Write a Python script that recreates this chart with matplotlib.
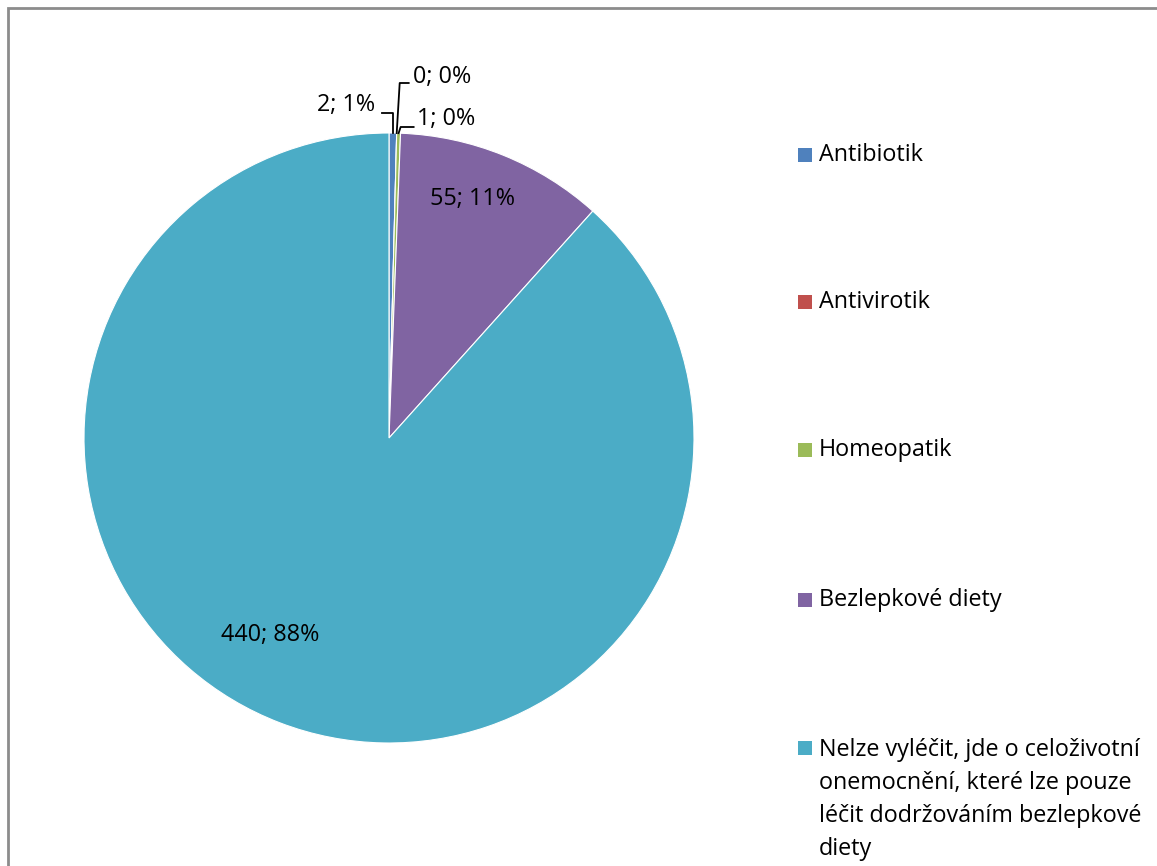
import numpy as np
import matplotlib.pyplot as plt
from matplotlib.patches import Rectangle

plt.rcParams['font.family'] = ['Open Sans', 'DejaVu Sans']

categories = ["Antibiotik", "Antivirotik", "Homeopatik", "Bezlepkové diety",
              "Nelze vyléčit, jde o celoživotní\nonemocnění, které lze pouze\nléčit dodržováním bezlepkové\ndiety"]
values = [2, 0, 1, 55, 440]
pct_labels = ["1%", "0%", "0%", "11%", "88%"]
colors = ["#4F81BD", "#C0504D", "#9BBB59", "#8064A2", "#4BACC6"]

W, H = 1157, 866
fig = plt.figure(figsize=(W / 100, H / 100), dpi=100)
ax = fig.add_axes([0, 0, 1, 1])

# chart area border (only top and left edges fall inside the image)
ax.add_patch(Rectangle((7.5, -20), W + 50, H - 7.5 + 20, fill=False,
                       edgecolor="#8c8c8c", linewidth=2.0))

cx, cy, r = 389, H - 438, 305
wedges, _ = ax.pie(values, colors=colors, startangle=90, counterclock=False,
                   center=(cx, cy), radius=r, frame=True,
                   wedgeprops=dict(edgecolor="white", linewidth=0.8))
ax.set_xlim(0, W)
ax.set_ylim(0, H)
ax.set_aspect("equal")
ax.axis("off")

fs = 16.8
labels = [f"{v}; {p}" for v, p in zip(values, pct_labels)]

def edge_point(w, frac=0.5):
    ang = np.deg2rad(w.theta1 + (w.theta2 - w.theta1) * frac)
    return cx + r * np.cos(ang), cy + r * np.sin(ang)

# small slices: labels outside with leader lines
x0, y0 = edge_point(wedges[0])
ax.plot([x0, x0, x0 - 11], [y0, H - 113, H - 113], color="black", lw=1.3)
ax.text(x0 - 18, H - 105, labels[0], ha="right", va="center", fontsize=fs)

x1, y1 = edge_point(wedges[1])
ax.plot([x1, x1 + 3, x1 + 12], [y1, H - 83, H - 83], color="black", lw=1.3)
ax.text(x1 + 16, H - 77, labels[1], ha="left", va="center", fontsize=fs)

x2, y2 = edge_point(wedges[2])
ax.plot([x2, x2 + 2, x2 + 15], [y2, H - 127, H - 127], color="black", lw=1.3)
ax.text(x2 + 18, H - 119, labels[2], ha="left", va="center", fontsize=fs)

# large slices: labels inside
ax.text(472, H - 199, labels[3], ha="center", va="center", fontsize=fs)
ax.text(270, H - 635, labels[4], ha="center", va="center", fontsize=fs)

# legend
leg_y = [155, 302, 450, 600, 748]
sq = 13.5
for cat, col, ly in zip(categories, colors, leg_y):
    ax.add_patch(Rectangle((798, H - ly - sq / 2), sq, sq, facecolor=col, edgecolor="none"))
    if "\n" in cat:
        ax.text(819, H - ly + 10, cat, ha="left", va="top", fontsize=fs, linespacing=1.5)
    else:
        ax.text(819, H - ly, cat, ha="left", va="center", fontsize=fs)

fig.savefig("out.png", dpi=100, facecolor="white")
